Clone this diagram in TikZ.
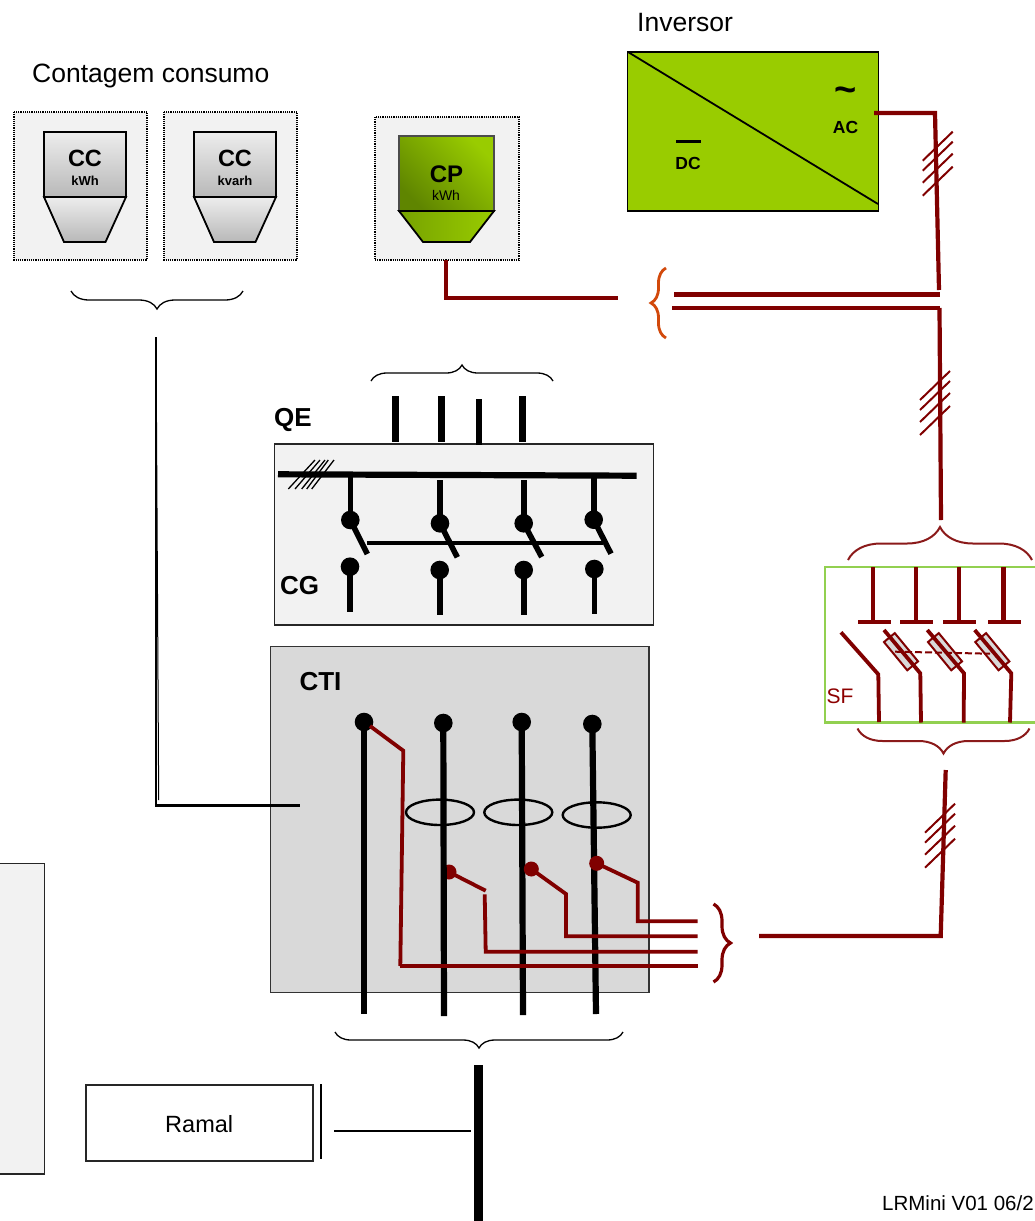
\documentclass[tikz,border=0pt]{standalone}
\usepackage{fontspec}
\setmainfont{Liberation Sans}
\usepackage{tikz}
\usetikzlibrary{decorations.pathreplacing}
\definecolor{wirered}{HTML}{800000}
\definecolor{panelgray}{HTML}{F2F2F2}
\definecolor{ctigray}{HTML}{D9D9D9}
\definecolor{invgreen}{HTML}{99CC00}
\definecolor{dkgreen}{HTML}{5F8500}
\definecolor{bracered}{HTML}{8B1A1A}
\definecolor{orangebr}{HTML}{D2490B}
\definecolor{sfgreen}{HTML}{92D050}
\definecolor{metertop}{HTML}{EDEDED}
\definecolor{meterbot}{HTML}{B8B8B8}
\tikzset{
    redwire/.style={wirered, line width=4.2pt},
    thinred/.style={wirered, line width=3.8pt},
    blackwire/.style={black, line width=6.2pt},
    switchwire/.style={black, line width=5.6pt},
    tick/.style={wirered, line width=2pt},
    panel/.style={fill=panelgray, draw=black!85, line width=1.8pt},
    dotpanel/.style={fill=panelgray, draw=black, line width=1.2pt, densely dotted},
    meter/.style={draw=black, line width=1.8pt, top color=metertop, bottom color=meterbot},
    label/.style={inner sep=0pt, font=\fontsize{26.5}{26}\selectfont},
    boldlabel/.style={inner sep=0pt, font=\fontsize{26}{26}\selectfont\bfseries},
    blackbrace/.style={decorate, line width=1.3pt},
}
\newcommand{\hatchmark}[2]{% centre of the wire at the mark
    \foreach \dy in {-18,-8,4,17}
        \draw[tick] (#1-15, #2+\dy+15) -- (#1+15, #2+\dy-14);
}
\begin{document}
\begin{tikzpicture}[x=1pt, y=-1pt]
        \useasboundingbox (0, 0) rectangle (1035, 1221);
        % meters
        \draw[dotpanel] (14, 112) rectangle (147, 260);
        \draw[dotpanel] (164, 112) rectangle (297, 260);
        \draw[dotpanel] (375, 117) rectangle (519, 260);
        \foreach \xm/\unit in {44/kWh, 194/kvarh} {
            \draw[meter] (\xm, 132) rectangle (\xm+82, 197);
            \draw[meter] (\xm, 197) -- (\xm+82, 197) -- (\xm+61.5, 242) -- (\xm+20, 242) -- cycle;
            \node[inner sep=0pt, font=\fontsize{23.5}{24}\selectfont\bfseries] (cc\xm) at (\xm+41, 158) {CC};
            \node[inner sep=0pt, font=\fontsize{13}{14}\selectfont\bfseries] (unit\xm) at (\xm+41, 181) {\unit};
        }
        \draw[draw=black!70, line width=1.8pt, left color=dkgreen, middle color=invgreen!85!dkgreen, right color=invgreen, shading angle=135] (399, 136) rectangle (494, 211);
        \draw[draw=black, line width=1.8pt, left color=dkgreen!60!invgreen, right color=invgreen] (399, 211) -- (494, 211) -- (470, 242) -- (423, 242) -- cycle;
        \node[inner sep=0pt, font=\fontsize{24}{24}\selectfont\bfseries] (cp) at (446.5, 174) {CP};
        \node[inner sep=0pt, font=\fontsize{14}{14}\selectfont] (cpunit) at (446, 195) {kWh};
        \node[label, anchor=west] (contagem) at (32, 76) {Contagem consumo};
        \node[label, anchor=west] (inversor) at (637, 22.5) {Inversor};
        \draw[blackbrace, decoration={brace, amplitude=18pt, mirror}] (71, 291) -- (243, 291);
        % inverter
        \draw[fill=invgreen, line width=1.8pt] (627.5, 52) rectangle (878.5, 211);
        \draw[line width=1.8pt] (628, 52) -- (878, 204);
        \node[inner sep=0pt, font=\fontsize{38}{38}\selectfont\bfseries] (tilde) at (845.5, 95) {\char"7E};
        \node[inner sep=0pt, font=\fontsize{17.5}{18}\selectfont\bfseries] (ac) at (845.5, 127) {AC};
        \draw[line width=3pt] (676, 141) -- (701, 141);
        \node[inner sep=0pt, font=\fontsize{17.5}{18}\selectfont\bfseries] (dc) at (688, 163) {DC};
        % production wires
        \draw[redwire, miter limit=10] (446, 260) -- (446, 298) -- (618, 298);
        \draw[redwire] (874, 113) -- (935, 113) -- (939, 290);
        \hatchmark{937.7}{163.7}
        \draw[decorate, decoration={brace, amplitude=15pt}, orangebr, line width=2.8pt] (666, 338) -- (666, 268);
        \draw[redwire, line width=4.6pt] (674, 294.5) -- (940, 294.5);
        \draw[redwire, line width=4.6pt] (672, 308) -- (939.5, 308);
        \draw[redwire] (939.5, 308) -- (941, 520);
        \hatchmark{935}{403}
        % QE panel
        \draw[panel] (274.5, 444) rectangle (653.5, 625);
        \node[boldlabel] (qe) at (293, 419.5) {QE};
        \node[boldlabel] (cg) at (299.5, 586) {CG};
        \foreach \xt/\yt in {395.5/396, 441.5/396, 479/399, 522.5/396}
            \draw[line width=6.8pt] (\xt, \yt) -- (\xt, \yt+46);
        \draw[blackbrace, decoration={brace, amplitude=16pt}] (371, 381) -- (553, 381);
        \draw[line width=6.2pt] (278, 474.3) -- (636.7, 475.7);
        \foreach \xa/\xb in {288.3/315, 295/320, 301.7/325, 306.7/328.3, 311.7/334}
            \draw[line width=1.3pt] (\xa, 489) -- (\xb, 460);
        \foreach \xs/\ys/\yc/\xe/\ye/\xl/\yl/\ym in {350.3/475/520/367.3/554/350/566.7/612, 440/480/523.3/457.3/557.3/439.7/570/615, 523.7/480/523.3/541.7/557/523.7/570/615, 593.7/475/519.7/611/553.7/594.3/569/614} {
            \draw[switchwire] (\xs, \ys) -- (\xs, \yc);
            \fill (\xs, \yc) circle (9.3);
            \draw[switchwire] (\xs, \yc) -- (\xe, \ye);
            \fill (\xl, \yl) circle (9.3);
            \draw[switchwire] (\xl, \yl) -- (\xl, \ym);
        }
        \draw[line width=3.8pt] (366.7, 542.7) -- (603, 542.7);
        % CTI panel
        \draw[fill=ctigray, draw=black!80, line width=1.8pt] (270.5, 646.5) rectangle (649, 992.5);
        \node[boldlabel] (cti) at (320.5, 682) {CTI};
        \fill[wirered] (449, 872) circle (7.5);
        \foreach \xa/\ya/\xb/\yb in {364/722/364/1014, 443.3/723/444/1016, 521.7/722/523/1015, 592.3/724/596/1014} {
            \fill (\xa, \ya) circle (9.3);
            \draw[blackwire] (\xa, \ya) -- (\xb, \yb);
        }
        \foreach \xc/\yc in {440/812.3, 518.3/812.3, 596.7/815}
            \draw[line width=2.4pt] (\xc, \yc) ellipse (34 and 12.7);
        \draw[thinred] (531.3, 869) -- (566, 894) -- (566, 936.3) -- (697.7, 936.3);
        \draw[thinred] (449, 872) -- (485.7, 890.7);
        \draw[thinred] (484.7, 894.3) -- (485.7, 951.7) -- (697.7, 951.7);
        \draw[thinred] (596.7, 863.3) -- (637.7, 882.7) -- (637.7, 921.3) -- (697.7, 921.3);
        \draw[thinred] (370, 726) -- (403.3, 750.7) -- (400.3, 966);
        \draw[redwire, line width=4.8pt] (400.3, 966) -- (697.7, 966);
        \fill[wirered] (531.3, 869) circle (7.5);
        \fill[wirered] (596.7, 863.3) circle (7.5);
        \draw[decorate, decoration={brace, amplitude=17pt}, wirered, line width=3.2pt] (713.5, 904) -- (713.5, 982);
        \draw[blackbrace, decoration={brace, amplitude=16pt, mirror}] (335, 1032) -- (623, 1032);
        % SF panel
        \draw[fill=white, draw=sfgreen, line width=2.2pt] (825, 567) rectangle (1040, 722.5);
        \node[inner sep=0pt, wirered!90!red, font=\fontsize{21}{21}\selectfont] (sf) at (840, 696) {SF};
        \draw[decorate, decoration={brace, amplitude=33pt}, bracered, line width=2pt] (848, 560) -- (1032, 560);
        \draw[decorate, decoration={brace, amplitude=25pt, mirror}, bracered, line width=2pt] (857.5, 728.5) -- (1029.5, 728.5);
        \foreach \xv/\xa/\xb in {873/858/891, 916/900/933, 959/943/976, 1003.3/988/1021} {
            \draw[wirered, line width=4.4pt] (\xv, 567) -- (\xv, 622);
            \draw[wirered, line width=4.4pt] (\xa, 622) -- (\xb, 622);
        }
        \draw[thinred] (841, 632.3) -- (878.3, 674.3) -- (879, 722);
        \foreach \xa/\xb/\xc/\xf in {884/920.3/921/901, 927.3/964/963.7/945, 974.7/1011.3/1010/992.3} {
            \draw[wirered, line width=2pt, fill=ctigray, rotate around={-50.5:(\xf, 651.7)}] (\xf-18.3, 644.7) rectangle (\xf+18.3, 658.7);
            \draw[thinred] (\xa, 630) -- (\xb, 673.3) -- (\xc, 722.5);
        }
        \draw[wirered, line width=2pt, dash pattern=on 7pt off 3pt] (895, 651.7) -- (990, 653.7);
        % meter feed
        \draw[redwire] (759, 936) -- (940.7, 936) -- (945.7, 770);
        \hatchmark{940}{835.7}
        \coordinate (feedtop) at (156, 337);
        \coordinate (feedcti) at (300, 805.5);
        \draw[line width=2.4pt] (feedtop) |- (feedcti);
        \draw[line width=1pt] (feedtop) -- (158.7, 800);
        % ramal
        \draw[panel] (-5, 863.5) rectangle (44.5, 1174);
        \node[draw=black!85, line width=2pt, minimum width=227pt, minimum height=76pt, inner sep=0pt, font=\fontsize{23.5}{24}\selectfont] (ramal) at (199.2, 1122.5) {\raisebox{-10pt}[0pt][0pt]{Ramal}};
        \draw[line width=1.6pt] (320.7, 1084) -- (320.7, 1159);
        \coordinate (busin) at (470.5, 1131);
        \coordinate (ramalout) at (334, 1131);
        \draw[line width=8.5pt] (478.5, 1065) -- (478.5, 1221);
        \draw[line width=2pt] (ramalout) -- (busin);
        \node[anchor=west, inner sep=0pt, font=\fontsize{20.5}{21}\selectfont] (versao) at (882, 1203) {LRMini V01 06/2};
    \end{tikzpicture}
\end{document}
